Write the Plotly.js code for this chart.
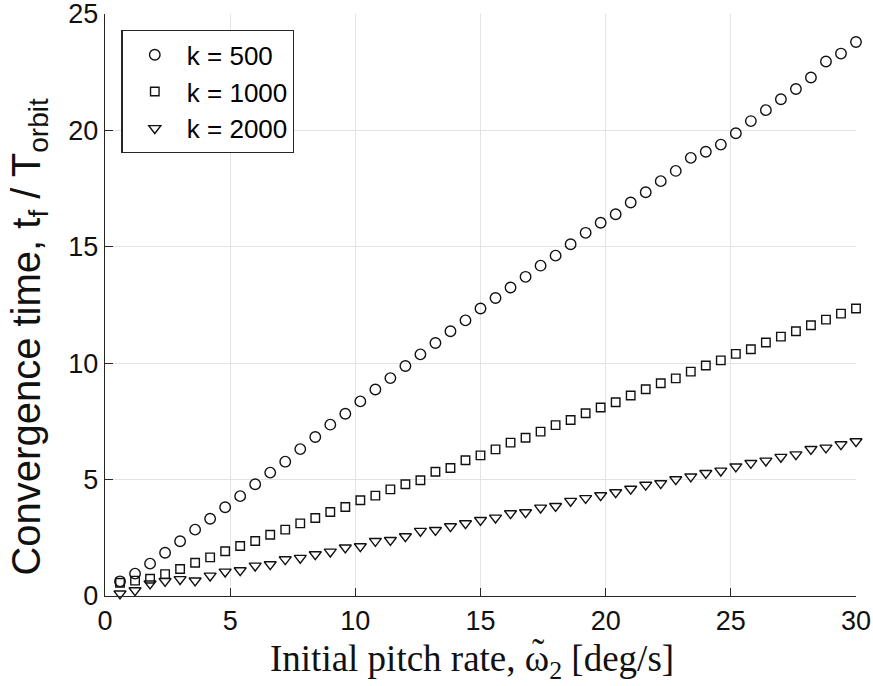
<!DOCTYPE html>
<html>
<head>
<meta charset="utf-8">
<script src="https://cdn.plot.ly/plotly-3.0.1.min.js"></script>
<style>html,body{margin:0;padding:0;background:#fff;}#chart{width:873px;height:686px;}</style>
</head>
<body>
<div id="chart"></div>
<script>
// Initial pitch rate [deg/s]
var pitchRate = [0.6,1.2,1.8,2.4,3.0,3.6,4.2,4.8,5.4,6.0,6.6,7.2,7.8,8.4,9.0,9.6,10.2,10.8,11.4,12.0,
  12.6,13.2,13.8,14.4,15.0,15.6,16.2,16.8,17.4,18.0,18.6,19.2,19.8,20.4,21.0,21.6,22.2,22.8,23.4,24.0,
  24.6,25.2,25.8,26.4,27.0,27.6,28.2,28.8,29.4,30.0];
// Convergence time t_f / T_orbit
var k500 = [0.63,0.96,1.39,1.86,2.35,2.85,3.32,3.81,4.29,4.80,5.30,5.77,6.31,6.83,7.36,7.83,8.36,8.87,9.36,9.88,
  10.38,10.87,11.37,11.84,12.35,12.80,13.25,13.71,14.19,14.62,15.11,15.60,16.03,16.40,16.90,17.34,17.82,18.26,18.82,19.08,
  19.39,19.88,20.40,20.87,21.34,21.78,22.27,22.96,23.30,23.80];
var k1000 = [0.57,0.66,0.74,0.94,1.16,1.43,1.66,1.92,2.15,2.36,2.63,2.85,3.12,3.35,3.61,3.82,4.11,4.31,4.58,4.80,
  4.97,5.34,5.50,5.83,6.04,6.30,6.59,6.80,7.06,7.34,7.56,7.85,8.10,8.32,8.61,8.88,9.14,9.35,9.64,9.90,
  10.12,10.40,10.60,10.89,11.14,11.37,11.63,11.87,12.13,12.35];
var k2000 = [0.10,0.24,0.53,0.64,0.72,0.66,0.87,1.04,1.10,1.30,1.36,1.57,1.63,1.79,1.90,2.08,2.13,2.36,2.40,2.56,
  2.79,2.83,2.99,3.12,3.26,3.36,3.55,3.59,3.79,3.86,4.08,4.20,4.32,4.45,4.60,4.77,4.84,5.01,5.13,5.28,
  5.38,5.56,5.71,5.81,5.97,6.08,6.31,6.37,6.51,6.64];
var seriesNames = ['k = 500','k = 1000','k = 2000'];
var xTicks = [0,5,10,15,20,25,30];
var yTicks = [0,5,10,15,20,25];
var xTitle = 'Initial pitch rate, ω<sub>2</sub> [deg/s]';
var xTitleTilde = '˜';
var yTitle = 'Convergence time, t<sub>f</sub> / T<sub>orbit</sub>';

var ink = '#111111';
var sans = 'Liberation Sans, Arial, sans-serif';
var serif = 'Liberation Serif, Times New Roman, serif';
function tr(y, name, sym, size){
  return {x: pitchRate, y: y, name: name, type: 'scatter', mode: 'markers', cliponaxis: false,
    marker: {symbol: sym, size: size, color: ink, line: {width: 1.4, color: ink}}};
}
var data = [
  tr(k500, seriesNames[0], 'circle-open', 10.5),
  tr(k1000, seriesNames[1], 'square-open', 8.5),
  tr(k2000, seriesNames[2], 'triangle-down-open', 10.5)
];
var axisCommon = {
  showline: true, linecolor: '#262626', linewidth: 1.3, mirror: false,
  ticks: 'inside', ticklen: 8, tickwidth: 1.3, tickcolor: '#262626',
  showgrid: true, gridcolor: '#e3e3e3', gridwidth: 1, zeroline: false,
  tickfont: {family: sans, size: 27, color: ink},
  ticklabeloverflow: 'allow',
  fixedrange: true
};
var L = 104.5, T = 14, W = 751.5, H = 582;
function px(x){ return (x - L) / W; }
function py(y){ return (T + H - y) / H; }
var layout = {
  width: 873, height: 686,
  margin: {l: L, r: 873 - L - W, t: T, b: 686 - T - H, pad: 0},
  paper_bgcolor: '#fff', plot_bgcolor: '#fff',
  showlegend: true,
  xaxis: Object.assign({}, axisCommon, {
    range: [0, 30], tickmode: 'array', tickvals: xTicks, ticktext: xTicks.map(String)
  }),
  yaxis: Object.assign({}, axisCommon, {
    range: [0, 25], tickmode: 'array', tickvals: yTicks, ticktext: yTicks.map(String)
  }),
  legend: {
    x: px(121), y: py(30), xanchor: 'left', yanchor: 'top',
    bgcolor: '#fff', bordercolor: '#262626', borderwidth: 1.3,
    font: {family: sans, size: 26, color: '#000'},
    itemwidth: 54
  },
  annotations: [
    {text: yTitle, xref: 'paper', yref: 'paper', x: px(28), y: py(337), textangle: -90,
      xanchor: 'center', yanchor: 'middle', showarrow: false,
      font: {family: sans, size: 40, color: ink}},
    {text: xTitle, xref: 'paper', yref: 'paper', x: px(472), y: py(661),
      xanchor: 'center', yanchor: 'middle', showarrow: false,
      font: {family: serif, size: 37, color: ink}},
    {text: xTitleTilde, xref: 'paper', yref: 'paper', x: px(538), y: py(652),
      xanchor: 'center', yanchor: 'middle', showarrow: false,
      font: {family: serif, size: 37, color: ink}}
  ]
};
Plotly.newPlot('chart', data, layout, {displayModeBar: false, staticPlot: true});
</script>
</body>
</html>
